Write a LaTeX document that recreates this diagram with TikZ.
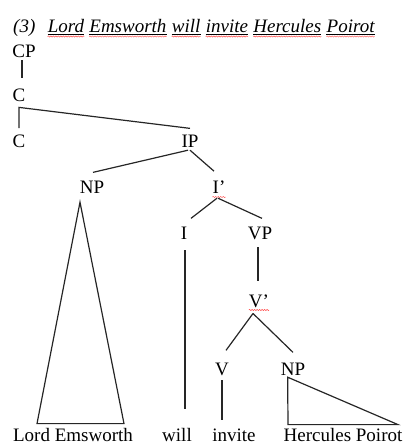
\documentclass[tikz,border=0pt]{standalone}
\usepackage{fontspec}
\setmainfont{Liberation Serif}
\usetikzlibrary{positioning, decorations.pathmorphing}

\begin{document}
\begin{tikzpicture}[
    x=1pt, y=-1pt,
    cat/.style={inner sep=0pt, anchor=base, font=\fontsize{19}{22}\selectfont},
    leaf/.style={inner sep=0pt, anchor=base, font=\fontsize{19}{22}\selectfont},
    ttl/.style={inner sep=0pt, font=\fontsize{19}{22}\selectfont\itshape},
    branch/.style={line width=1.2pt, black!85},
    spell/.style={red!70, line width=0.5pt, decorate,
                  decoration={snake, amplitude=0.6pt, segment length=2.5pt}}
]
\useasboundingbox (0,0) rectangle (405,445);

% title
\node[ttl, anchor=base west] (tnum) at (13,32) {(3)};
\node[ttl, base right=12pt of tnum] (tlord) {Lord};
\node[ttl, base right=5pt of tlord] (temsworth) {Emsworth};
\node[ttl, base right=5pt of temsworth] (twill) {will};
\node[ttl, base right=5pt of twill] (tinvite) {invite};
\node[ttl, base right=5pt of tinvite] (therc) {Hercules};
\node[ttl, base right=5pt of therc] (tpoirot) {Poirot};
\foreach \w in {tlord,temsworth,twill,tinvite,therc,tpoirot} {
  \draw[line width=0.7pt] ([yshift=-2pt]\w.base west) -- ([yshift=-2pt]\w.base east);
  \draw[spell] ([yshift=-4.5pt]\w.base west) -- ([yshift=-4.5pt]\w.base east);
}

% categories
\node[cat] (cp) at (24,57) {CP};
\node[cat] (c1) at (19,101) {C};
\node[cat] (c2) at (19,147) {C};
\node[cat] (ip) at (190,147) {IP};
\node[cat] (np) at (92,193) {NP};
\node[cat] (ibar) at (219,193) {I'};
\node[cat] (i) at (184,239) {I};
\node[cat] (vp) at (260,239) {VP};
\node[cat] (vbar) at (259,307) {V'};
\node[cat] (v) at (222,375) {V};
\node[cat] (np2) at (293,375) {NP};

% words
\node[leaf] (lordem) at (73,441) {Lord Emsworth};
\node[leaf] (willw) at (177,441) {will};
\node[leaf] (invitew) at (234,441) {invite};
\node[leaf] (hercw) at (343,441) {Hercules Poirot};

\draw[spell] ([yshift=-4pt]ibar.base west) -- ([yshift=-4pt]ibar.base east);
\draw[spell] ([yshift=-3pt]vbar.base west) -- ([yshift=-3pt]vbar.base east);

% branches
\coordinate (cjoin) at ([yshift=-6pt]c1.south);
\draw[branch] ([xshift=-2pt,yshift=-3pt]cp.south) -- ([xshift=3pt,yshift=10pt]c1.north);
\draw[branch] ([yshift=6pt]c2.north) -- (cjoin) -- ([yshift=6pt]ip.north);
\draw[branch] ([xshift=-2pt,yshift=-3pt]ip.south) -- ([xshift=1pt,yshift=8pt]np.north);
\draw[branch] ([yshift=-3pt]ip.south) -- ([xshift=-5pt,yshift=9pt]ibar.north);
\draw[branch] ([xshift=-2pt,yshift=-5pt]ibar.south) -- ([xshift=7pt,yshift=8pt]i.north);
\draw[branch] ([xshift=-1pt,yshift=-5pt]ibar.south) -- ([xshift=2pt,yshift=8pt]vp.north);
\draw[branch] ([xshift=1pt,yshift=-11pt]i.south) -- ([xshift=8pt,yshift=19pt]willw.north);
\draw[branch] ([xshift=-2pt,yshift=-8pt]vp.south) -- ([xshift=-1pt,yshift=13pt]vbar.north);
\draw[branch] ([xshift=-6pt,yshift=-6pt]vbar.south) -- ([xshift=4pt,yshift=12pt]v.north);
\draw[branch] ([xshift=-6pt,yshift=-6pt]vbar.south) -- ([yshift=10pt]np2.north);
\draw[branch] ([yshift=-5pt]v.south) -- ([xshift=-12pt,yshift=8pt]invitew.north);

% triangles
\draw[branch] ([xshift=-12pt,yshift=-9pt]np.south) -- ([xshift=-36pt,yshift=4pt]lordem.north)
  -- ([xshift=51pt,yshift=4pt]lordem.north) -- cycle;
\draw[branch] ([xshift=7pt,yshift=-2pt]np2.south west) -- ([xshift=-55pt,yshift=3pt]hercw.north)
  -- ([xshift=55pt,yshift=3pt]hercw.north) -- cycle;
\end{tikzpicture}
\end{document}
